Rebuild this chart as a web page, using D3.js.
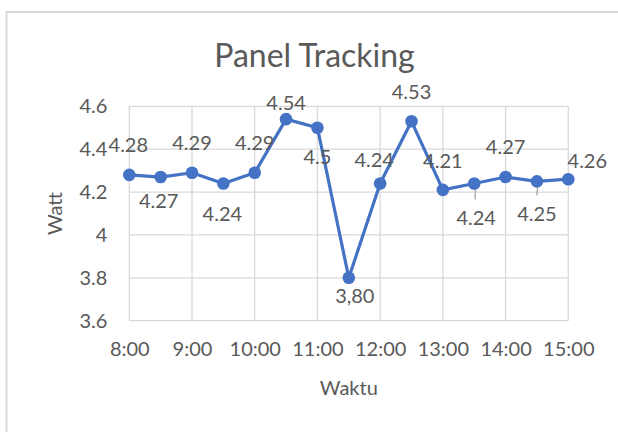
<!DOCTYPE html>
<html><head><meta charset="utf-8">
<script src="https://cdn.jsdelivr.net/npm/d3@7"></script>
<style>html,body{margin:0;padding:0;background:#fff;}svg{display:block;}</style>
</head><body>
<svg id="chart" width="618" height="432"></svg>
<script>
// Data
const times = ["8:00","8:30","9:00","9:30","10:00","10:30","11:00","11:30","12:00","12:30","13:00","13:30","14:00","14:30","15:00"];
const watt = [4.28,4.27,4.29,4.24,4.29,4.54,4.5,3.80,4.24,4.53,4.21,4.24,4.27,4.25,4.26];
const valueLabels = ["4.28","4.27","4.29","4.24","4.29","4.54","4.5","3,80","4.24","4.53","4.21","4.24","4.27","4.25","4.26"];
const xTickLabels = ["8:00","9:00","10:00","11:00","12:00","13:00","14:00","15:00"];
const yTicks = [3.6,3.8,4.0,4.2,4.4,4.6];

// Layout (label placement offsets, in px, relative to the point)
const labelOffsets = [[-1,-30],[-2,24],[0,-30],[-1,30],[0,-30],[0,-16],[0,29],[6,18],[-6,-24],[0,-30],[0,-29],[2,34],[0,-30],[0,32],[19,-18]];
const leaderIdx = [11,13];

const svg = d3.select("#chart");
const font = "Lato, 'Open Sans', sans-serif";
const txt = "#595959";
const grid = "#d9d9d9";

svg.append("rect").attr("x",6.5).attr("y",12).attr("width",700).attr("height",500)
  .attr("fill","#fff").attr("stroke","#d9d9d9").attr("stroke-width",2);

const L = 129.3, R = 568.3, T = 106.3, B = 320.7;
const x = d3.scalePoint().domain(times).range([L,R]);
const y = d3.scaleLinear().domain([3.6,4.6]).range([B,T]);

// gridlines
svg.append("g").selectAll("line").data(yTicks).join("line")
  .attr("x1",L).attr("x2",R).attr("y1",d=>y(d)).attr("y2",d=>y(d))
  .attr("stroke",grid).attr("stroke-width",1.3);
svg.append("g").selectAll("line").data(xTickLabels).join("line")
  .attr("x1",d=>x(d)).attr("x2",d=>x(d)).attr("y1",T).attr("y2",B)
  .attr("stroke",grid).attr("stroke-width",1.3);

// y axis
const yAxis = svg.append("g").attr("transform",`translate(${L},0)`)
  .call(d3.axisLeft(y).tickValues(yTicks).tickFormat(d=>d3.format("")(+d.toFixed(1))).tickSize(0).tickPadding(22));
yAxis.select(".domain").remove();
yAxis.selectAll("text").attr("font-family",font).attr("font-size",20).attr("fill",txt);

// x axis
const xAxis = svg.append("g").attr("transform",`translate(0,${B})`)
  .call(d3.axisBottom(x).tickValues(xTickLabels).tickSize(0).tickPadding(21));
xAxis.select(".domain").remove();
xAxis.selectAll("text").attr("font-family",font).attr("font-size",20).attr("fill",txt);

// line
const pts = times.map((t,i)=>({t, v:watt[i], lab:valueLabels[i], off:labelOffsets[i], i}));
svg.append("path").datum(pts)
  .attr("d", d3.line().x(d=>x(d.t)).y(d=>y(d.v)))
  .attr("fill","none").attr("stroke","#4472C4").attr("stroke-width",3.2).attr("stroke-linejoin","round");

// leader lines
svg.append("g").selectAll("line").data(pts.filter(d=>leaderIdx.includes(d.i))).join("line")
  .attr("x1",d=>x(d.t)+1).attr("y1",d=>y(d.v))
  .attr("x2",d=>x(d.t)+d.off[0]*0.5).attr("y2",d=>y(d.v)+d.off[1]-18)
  .attr("stroke","#a6a6a6").attr("stroke-width",1.3);

svg.append("g").selectAll("circle").data(pts).join("circle")
  .attr("cx",d=>x(d.t)).attr("cy",d=>y(d.v)).attr("r",6.3).attr("fill","#4472C4");

// data labels
svg.append("g").selectAll("text").data(pts).join("text")
  .attr("x",d=>x(d.t)+d.off[0]).attr("y",d=>y(d.v)+d.off[1])
  .attr("dy","0.36em").attr("text-anchor","middle")
  .attr("font-family",font).attr("font-size",20).attr("fill",txt)
  .text(d=>d.lab);

// titles
svg.append("text").attr("x",314.5).attr("y",66.5).attr("text-anchor","middle")
  .attr("font-family",font).attr("font-size",32).attr("fill",txt).text("Panel Tracking");
svg.append("text").attr("x",(L+R)/2).attr("y",395).attr("text-anchor","middle")
  .attr("font-family",font).attr("font-size",20).attr("fill",txt).text("Waktu");
svg.append("text").attr("transform",`translate(62,${(T+B)/2}) rotate(-90)`).attr("text-anchor","middle")
  .attr("font-family",font).attr("font-size",20).attr("fill",txt).text("Watt");
</script>
</body></html>
